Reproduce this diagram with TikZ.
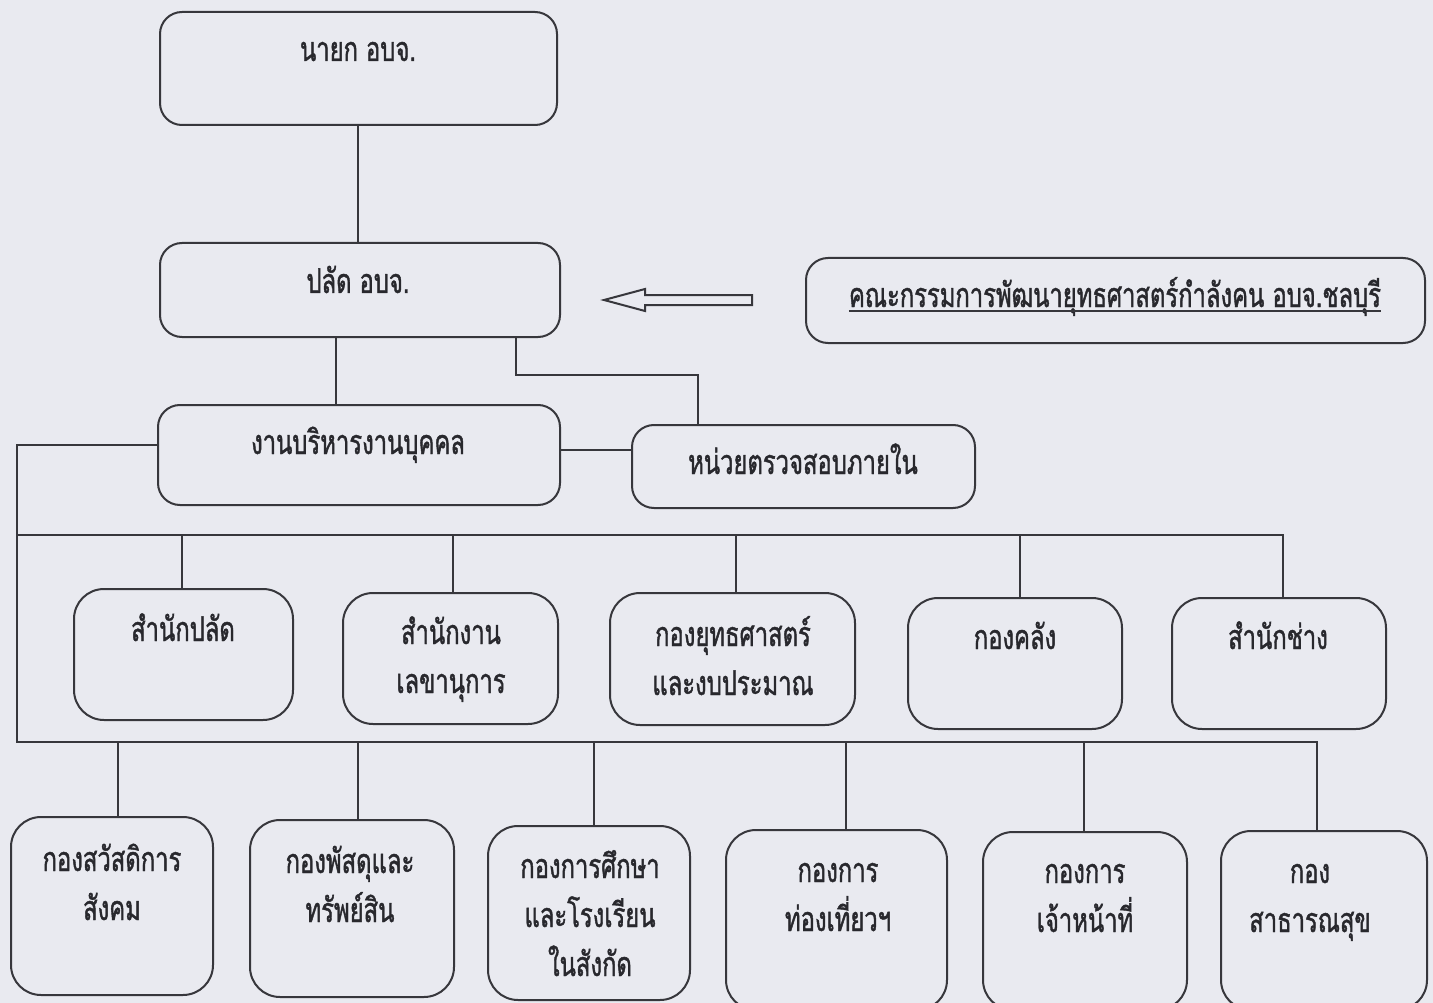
\documentclass[tikz,border=0pt]{standalone}
\usepackage{fontspec}
\newfontfamily\thaifont[Script=Thai,FakeStretch=0.7,FakeBold=1.2]{Loma}
\usetikzlibrary{calc}
\definecolor{bg}{RGB}{233,234,240}
\definecolor{linec}{RGB}{55,55,60}
\definecolor{txtc}{RGB}{40,40,45}
\tikzset{
  box/.style={draw=linec, line width=2pt, rounded corners=22pt, inner sep=0pt},
  rbox/.style={box, rounded corners=30pt},
  txt/.style={text=txtc, font=\thaifont\fontsize{34}{49}\selectfont, align=center, inner sep=0pt, anchor=base},
  conn/.style={draw=linec, line width=2pt}
}
\begin{document}
\begin{tikzpicture}[x=1pt,y=-1pt]
\fill[bg] (0,0) rectangle (1433,1003);
\useasboundingbox (0,0) rectangle (1433,1003);
% top boxes
\node[box, minimum width=397pt, minimum height=113pt] (n1) at (358.5,68.5) {};
\node[box, minimum width=400pt, minimum height=94pt] (n2) at (360,290) {};
\node[box, minimum width=619pt, minimum height=85pt] (cm) at (1115.5,300.5) {};
\node[box, minimum width=402pt, minimum height=100pt] (n3) at (359,455) {};
\node[box, minimum width=343pt, minimum height=83pt] (au) at (803.5,466.5) {};
% row 1
\node[rbox, minimum width=219pt, minimum height=131pt] (ra) at (183.5,654.5) {};
\node[rbox, minimum width=215pt, minimum height=131pt] (rb) at (450.5,658.5) {};
\node[rbox, minimum width=245pt, minimum height=132pt] (rc) at (732.5,659) {};
\node[rbox, minimum width=214pt, minimum height=131pt] (rd) at (1015,663.5) {};
\node[rbox, minimum width=214pt, minimum height=131pt] (re) at (1279,663.5) {};
% row 2
\node[rbox, minimum width=202pt, minimum height=178pt] (sa) at (112,906) {};
\node[rbox, minimum width=204pt, minimum height=177pt] (sb) at (352,908.5) {};
\node[rbox, minimum width=202pt, minimum height=174pt] (sc) at (589,913) {};
\node[rbox, minimum width=221pt, minimum height=180pt] (sd) at (836.5,920) {};
\node[rbox, minimum width=204pt, minimum height=178pt] (se) at (1085,921) {};
\node[rbox, minimum width=206pt, minimum height=179pt] (sf) at (1324,920.5) {};
% texts (anchor = baseline of the last line)
\node[txt] (t1) at (358,61) {นายก อบจ.};
\node[txt] (t2) at (358,293) {ปลัด อบจ.};
\node[txt] (tcm) at (1115,307) {คณะกรรมการพัฒนายุทธศาสตร์กำลังคน อบจ.ชลบุรี};
\draw[linec, line width=2pt] ($(tcm.base west)+(0,4)$) -- ($(tcm.base east)+(0,4)$);
\node[txt] (t3) at (358,454) {งานบริหารงานบุคคล};
\node[txt] (tau) at (803,474) {หน่วยตรวจสอบภายใน};
\node[txt] (tra) at (183,641) {สำนักปลัด};
\node[txt] (trb) at (451,693) {สำนักงาน\\เลขานุการ};
\node[txt] (trc) at (733,695) {กองยุทธศาสตร์\\และงบประมาณ};
\node[txt] (trd) at (1015,649) {กองคลัง};
\node[txt] (tre) at (1278,649) {สำนักช่าง};
\node[txt] (tsa) at (112,920) {กองสวัสดิการ\\สังคม};
\node[txt] (tsb) at (350,922) {กองพัสดุและ\\ทรัพย์สิน};
\node[txt] (tsc) at (590,976) {กองการศึกษา\\และโรงเรียน\\ในสังกัด};
\node[txt] (tsd) at (838,931) {กองการ\\ท่องเที่ยวฯ};
\node[txt] (tse) at (1085,932) {กองการ\\เจ้าหน้าที่};
\node[txt] (tsf) at (1310,932) {กอง\\สาธารณสุข};
% hollow arrow
\draw[linec, line width=2pt, line join=miter] (604,300) -- (645,289) -- (645,295) -- (752,295) -- (752,305) -- (645,305) -- (645,311) -- cycle;
% connectors
\draw[conn] (n1.south -| 358,0) -- (n2.north -| 358,0);
\draw[conn] (n2.south -| 336,0) -- (n3.north -| 336,0);
\draw[conn] (n2.south -| 516,0) |- (698,375) -- (au.north -| 698,0);
\draw[conn] (n3.east |- 0,450) -- (au.west |- 0,450);
\coordinate (L) at (17,445);
\coordinate (B1) at (17,535);
\coordinate (B2) at (17,742);
\draw[conn] (n3.west |- L) -- (L) -- (B2) -- (1317,742) -- (sf.north -| 1317,0);
\draw[conn] (B1) -- (1283,535) -- (re.north -| 1283,0);
\draw[conn] (182,535) -- (ra.north -| 182,0);
\draw[conn] (453,535) -- (rb.north -| 453,0);
\draw[conn] (736,535) -- (rc.north -| 736,0);
\draw[conn] (1020,535) -- (rd.north -| 1020,0);
\draw[conn] (118,742) -- (sa.north -| 118,0);
\draw[conn] (358,742) -- (sb.north -| 358,0);
\draw[conn] (594,742) -- (sc.north -| 594,0);
\draw[conn] (846,742) -- (sd.north -| 846,0);
\draw[conn] (1084,742) -- (se.north -| 1084,0);
\end{tikzpicture}
\end{document}
